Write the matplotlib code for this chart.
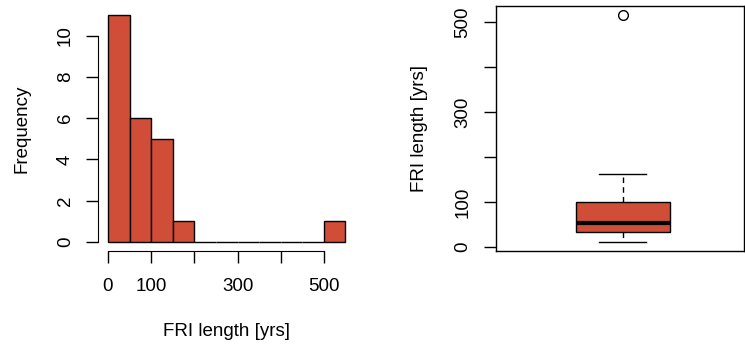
import matplotlib
matplotlib.use("Agg")
import matplotlib.pyplot as plt
import numpy as np

# histogram bins (FRI length, yrs) and counts
bin_edges = [0, 50, 100, 150, 200, 250, 300, 350, 400, 450, 500, 550]
bin_counts = [11, 6, 5, 1, 0, 0, 0, 0, 0, 0, 1]

# boxplot summary of FRI length
box_q1 = 32
box_med = 53
box_q3 = 100
whisker_lo = 11
whisker_hi = 162
outliers = [515]

x_ticks = [0, 100, 200, 300, 400, 500]
x_ticklabels = ["0", "100", "", "300", "", "500"]
y_ticks_hist = [0, 2, 4, 6, 8, 10]
y_ticks_box = [0, 100, 200, 300, 400, 500]
y_ticklabels_box = ["0", "100", "", "300", "", "500"]

fill = "#d04e38"
plt.rcParams["font.family"] = ["Liberation Sans", "DejaVu Sans"]
plt.rcParams["font.size"] = 13.5

fig = plt.figure(figsize=(7.45, 3.47), dpi=100)

# ---- histogram ----
ax1 = fig.add_axes([0.1322, 0.2767, 0.3443, 0.706])
widths = np.diff(bin_edges)
ax1.bar(bin_edges[:-1], bin_counts, width=widths, align="edge",
        color=fill, edgecolor="black", linewidth=1.0)
pad = 0.04 * (bin_edges[-1] - bin_edges[0])
ax1.set_xlim(bin_edges[0] - pad, bin_edges[-1] + pad)
ypad = 0.04 * max(bin_counts)
ax1.set_ylim(-ypad, max(bin_counts) + ypad)
for s in ["top", "right"]:
    ax1.spines[s].set_visible(False)
ax1.spines["left"].set_bounds(0, 10)
ax1.spines["bottom"].set_bounds(0, 500)
ax1.set_xticks(x_ticks)
ax1.set_xticklabels(x_ticklabels)
ax1.set_yticks(y_ticks_hist)
ax1.set_yticklabels([str(v) for v in y_ticks_hist], rotation=90, va="center")
ax1.tick_params(axis="x", length=8.6, width=1.0, pad=11)
ax1.tick_params(axis="y", length=8.6, width=1.0, pad=9)
ax1.set_xlabel("FRI length [yrs]", labelpad=20)
ax1.set_ylabel("Frequency", labelpad=19)

# ---- boxplot ----
ax2 = fig.add_axes([0.6658, 0.2767, 0.3335, 0.706])
stats = [{"med": box_med, "q1": box_q1, "q3": box_q3,
          "whislo": whisker_lo, "whishi": whisker_hi, "fliers": outliers}]
ax2.bxp(stats, positions=[1.01], widths=0.38, patch_artist=True,
        boxprops=dict(facecolor=fill, edgecolor="black", linewidth=1.0),
        medianprops=dict(color="black", linewidth=3),
        whiskerprops=dict(color="black", linewidth=1.0, linestyle=(0, (4, 3))),
        capprops=dict(color="black", linewidth=1.0),
        flierprops=dict(marker="o", markerfacecolor="none",
                        markeredgecolor="black", markersize=7),
        capwidths=0.19)
ax2.set_xlim(0.5, 1.5)
lo = min(whisker_lo, min(outliers))
hi = max(whisker_hi, max(outliers))
rng = hi - lo
ax2.set_ylim(lo - 0.04 * rng, hi + 0.04 * rng)
ax2.set_xticks([])
ax2.set_yticks(y_ticks_box)
ax2.set_yticklabels(y_ticklabels_box, rotation=90, va="center")
ax2.tick_params(axis="y", length=8.6, width=1.0, pad=9)
for s in ax2.spines.values():
    s.set_linewidth(1.0)
ax2.set_ylabel("FRI length [yrs]", labelpad=19)

fig.savefig("out.png", dpi=100)
